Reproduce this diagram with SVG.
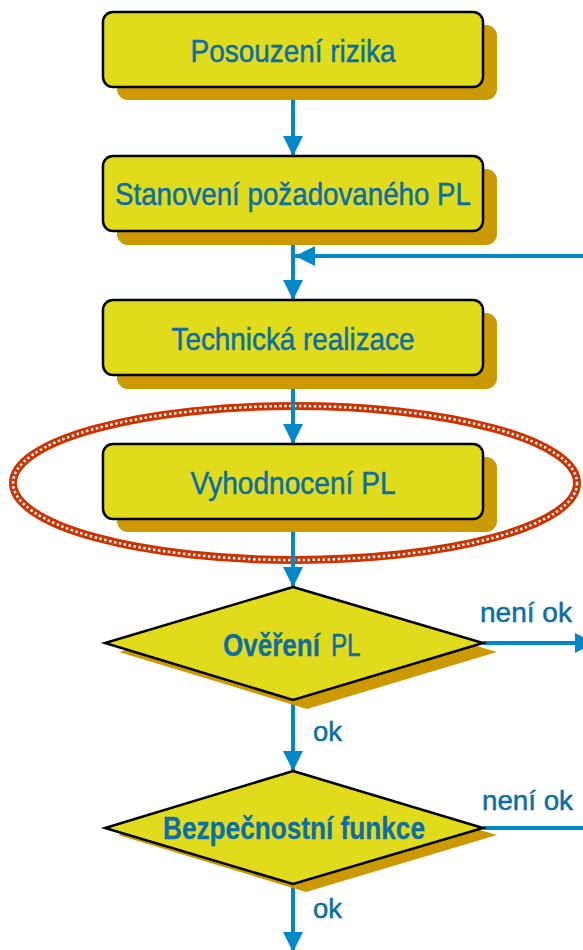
<svg xmlns="http://www.w3.org/2000/svg" width="583" height="950" viewBox="0 0 583 950">
  <style>
    .box { fill: #E0DC1C; stroke: #000; stroke-width: 2.5; }
    .shadow { fill: #CC9900; }
    .lbl { font-family: "Liberation Sans", sans-serif; fill: #0B6EA6; stroke: #0B6EA6; stroke-width: 0.5; }
    .big { font-size: 32px; text-anchor: middle; }
    .small { font-size: 27px; }
    .b { font-weight: bold; stroke-width: 0.3; }
    .conn { stroke: #0088C8; stroke-width: 4; fill: none; }
  </style>
  <defs>
    <marker id="arr" markerUnits="userSpaceOnUse" markerWidth="20" markerHeight="20" viewBox="0 0 16 16" refX="16" refY="8" orient="auto">
      <path d="M0,0 L16,8 L0,16 Z" fill="#0088C8"/>
    </marker>
  </defs>

  <rect width="583" height="950" fill="#fff"/>

  <!-- highlight ring around the evaluation step -->
  <g id="highlight">
    <ellipse cx="295" cy="483" rx="282" ry="77" fill="none" stroke="#CC3300" stroke-width="8"/>
    <ellipse cx="295" cy="483" rx="282" ry="77" fill="none" stroke="#fff" stroke-width="2.5" stroke-dasharray="2.5 2.5"/>
  </g>

  <g id="connectors">
    <line class="conn" x1="293" y1="87" x2="293" y2="156" marker-end="url(#arr)"/>
    <line class="conn" x1="293" y1="231" x2="293" y2="300" marker-end="url(#arr)"/>
    <line class="conn" x1="583" y1="256" x2="295" y2="256" marker-end="url(#arr)"/>
    <line class="conn" x1="293" y1="375" x2="293" y2="444" marker-end="url(#arr)"/>
    <line class="conn" x1="293" y1="519" x2="293" y2="587" marker-end="url(#arr)"/>
    <line class="conn" x1="483" y1="643" x2="595" y2="643" marker-end="url(#arr)"/>
    <line class="conn" x1="293" y1="700" x2="293" y2="771" marker-end="url(#arr)"/>
    <line class="conn" x1="483" y1="828" x2="583" y2="828"/>
    <line class="conn" x1="293" y1="884" x2="293" y2="952" marker-end="url(#arr)"/>
    <text class="lbl small" x="480" y="622" textLength="92" lengthAdjust="spacingAndGlyphs">není ok</text>
    <text class="lbl small" x="313" y="741" textLength="29" lengthAdjust="spacingAndGlyphs">ok</text>
    <text class="lbl small" x="482" y="810" textLength="91" lengthAdjust="spacingAndGlyphs">není ok</text>
    <text class="lbl small" x="313" y="918" textLength="29" lengthAdjust="spacingAndGlyphs">ok</text>
  </g>

  <g id="posouzeni">
    <rect class="shadow" x="117" y="25" width="380" height="75" rx="11"/>
    <rect class="box" x="103" y="12" width="380" height="75" rx="10"/>
    <text class="lbl big" x="293" y="62" textLength="205" lengthAdjust="spacingAndGlyphs">Posouzení rizika</text>
  </g>

  <g id="stanoveni">
    <rect class="shadow" x="117" y="169" width="380" height="76" rx="11"/>
    <rect class="box" x="103" y="156" width="380" height="75" rx="10"/>
    <text class="lbl big" x="293" y="205" textLength="356" lengthAdjust="spacingAndGlyphs">Stanovení požadovaného PL</text>
  </g>

  <g id="realizace">
    <rect class="shadow" x="117" y="313" width="380" height="76" rx="11"/>
    <rect class="box" x="103" y="300" width="380" height="75" rx="10"/>
    <text class="lbl big" x="293" y="350" textLength="243" lengthAdjust="spacingAndGlyphs">Technická realizace</text>
  </g>

  <g id="vyhodnoceni">
    <rect class="shadow" x="117" y="457" width="380" height="75" rx="11"/>
    <rect class="box" x="103" y="444" width="380" height="75" rx="10"/>
    <text class="lbl big" x="293" y="494" textLength="205" lengthAdjust="spacingAndGlyphs">Vyhodnocení PL</text>
  </g>

  <g id="overeni">
    <polygon class="shadow" points="307,596 497,652 307,709 119,652"/>
    <polygon class="box" points="293,587 483,643 293,700 105,643"/>
    <!-- condensed look via horizontal scaling -->
    <text class="lbl b" font-size="31" transform="translate(223,656) scale(0.84,1)">Ověření</text>
    <text class="lbl" font-size="31" transform="translate(331,656) scale(0.78,1)">PL</text>
  </g>

  <g id="bezpecnostni">
    <polygon class="shadow" points="306,779 497,835 306,892 118,835"/>
    <polygon class="box" points="293,771 483,828 293,884 105,828"/>
    <text class="lbl b" font-size="31" x="163" y="839" textLength="262" lengthAdjust="spacingAndGlyphs">Bezpečnostní funkce</text>
  </g>
</svg>
